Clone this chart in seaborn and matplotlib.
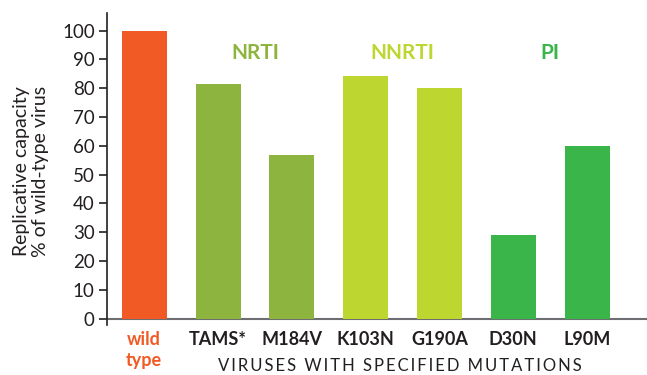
import matplotlib
matplotlib.use("Agg")
import matplotlib.pyplot as plt
import seaborn as sns
import pandas as pd

categories = ["wild\ntype", "TAMS*", "M184V", "K103N", "G190A", "D30N", "L90M"]
values = [100, 81.4, 57.0, 84.2, 80.0, 29.2, 59.8]
groups = ["wild type", "NRTI", "NRTI", "NNRTI", "NNRTI", "PI", "PI"]
group_labels = ["NRTI", "NNRTI", "PI"]
y_ticks = [0, 10, 20, 30, 40, 50, 60, 70, 80, 90, 100]
y_title = "Replicative capacity\n% of wild-type virus"
x_title = "VIRUSES WITH SPECIFIED MUTATIONS"

palette = {"wild type": "#F15A24", "NRTI": "#8DB43E", "NNRTI": "#BED630", "PI": "#39B54A"}
TEXT = "#231F20"

sns.set_theme(style="white")
plt.rcParams["font.family"] = ["Lato", "DejaVu Sans"]

df = pd.DataFrame({"cat": categories, "val": values, "grp": groups})

fig = plt.figure(figsize=(6.47, 3.75), dpi=100)
ax = fig.add_axes([107.3 / 647, 1 - 325 / 375, 1 - 107.3 / 647, (325 - 12.7) / 375])

sns.barplot(data=df, x="cat", y="val", hue="grp", palette=palette, dodge=False,
            width=0.61, legend=False, ax=ax, saturation=1, linewidth=0,
            edgecolor="none")

ax.set_xlim(-0.5, 6.81)
ax.set_ylim(-2.2, 106.25)
ax.set_yticks(y_ticks)
ax.set_yticklabels([str(t) for t in y_ticks], fontsize=13.5, color=TEXT)
ax.tick_params(axis="y", length=6, width=1.2, color=TEXT, pad=3, left=True)
ax.tick_params(axis="x", length=0, pad=4)

for sp in ["top", "right", "bottom"]:
    ax.spines[sp].set_visible(False)
ax.spines["left"].set_color(TEXT)
ax.spines["left"].set_linewidth(1.2)
ax.axhline(0, color="#6D6E71", lw=1.5, zorder=0.5)

ax.set_xticks(range(len(categories)))
ax.set_xticklabels(categories, fontsize=13, fontweight="bold", color=TEXT, linespacing=1.3)
for lbl, g in zip(ax.get_xticklabels(), groups):
    if g == "wild type":
        lbl.set_color(palette["wild type"])
    lbl.set_verticalalignment("top")

for g in group_labels:
    idx = [i for i, gg in enumerate(groups) if gg == g]
    xc = sum(idx) / len(idx)
    ax.text(xc, 92.2, g, ha="center", va="center", fontsize=15, fontweight="bold",
            color=palette[g])

ax.set_xlabel("")
ax.set_ylabel("")
spaced_title = "\u200a\u200a".join(x_title)
fig.text(399.5 / 647, 1 - 366 / 375, spaced_title, ha="center", va="center", fontsize=12,
         color=TEXT, family=["Lato", "DejaVu Sans"])
fig.text(31 / 647, 1 - 171 / 375, y_title, ha="center", va="center", rotation=90,
         fontsize=14, color=TEXT, linespacing=1.2)

fig.savefig("out.png", dpi=100)
